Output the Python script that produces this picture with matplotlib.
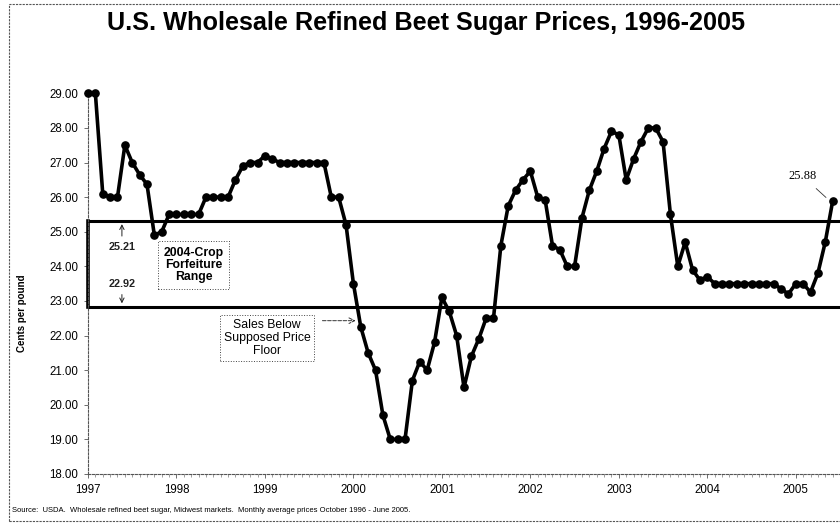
import matplotlib
matplotlib.use("Agg")
import matplotlib.pyplot as plt
from matplotlib.patches import Rectangle
from matplotlib.ticker import MultipleLocator

# ---- data (monthly average prices, cents per pound) ----
prices = [
    29.0, 29.0, 26.1, 26.0, 26.0, 27.5, 27.0, 26.65, 26.37, 24.9,
    25.0, 25.5, 25.5, 25.5, 25.5, 25.5, 26.0, 26.0, 26.0, 26.0,
    26.5, 26.9, 27.0, 27.0, 27.2, 27.1, 27.0, 27.0, 27.0, 27.0,
    27.0, 27.0, 27.0, 26.0, 26.0, 25.2, 23.5, 22.25, 21.5, 21.0,
    19.7, 19.0, 19.0, 19.0, 20.7, 21.25, 21.0, 21.8, 23.1, 22.7,
    22.0, 20.5, 21.4, 21.9, 22.5, 22.5, 24.6, 25.75, 26.2, 26.5,
    26.75, 26.0, 25.93, 24.6, 24.48, 24.0, 24.0, 25.4, 26.2, 26.75,
    27.4, 27.9, 27.8, 26.5, 27.1, 27.6, 28.0, 28.0, 27.6, 25.5,
    24.0, 24.7, 23.9, 23.6, 23.7, 23.5, 23.5, 23.5, 23.5, 23.5,
    23.5, 23.5, 23.5, 23.5, 23.35, 23.2, 23.5, 23.5, 23.25, 23.8,
    24.7, 25.88,
]
year_labels = ["1997", "1998", "1999", "2000", "2001", "2002", "2003", "2004", "2005"]
y_ticks = [18, 19, 20, 21, 22, 23, 24, 25, 26, 27, 28, 29]
range_top = 25.32      # drawn position of forfeiture range top line
range_bottom = 22.83   # drawn position of forfeiture range bottom line
last_label = "25.88"

months = list(range(len(prices)))
year_pos = [12 * i for i in range(len(year_labels))]

plt.rcParams['font.family'] = ['Liberation Sans', 'DejaVu Sans']

fig = plt.figure(figsize=(8.4, 5.25), dpi=100)
ax = fig.add_axes([88 / 840, 1 - 474 / 525, 1 - 88 / 840, (474 - 93.3) / 525])

# outer chart frame
fig.patches.append(Rectangle((9 / 840, 4 / 525), 1.0, 1 - 8 / 525, transform=fig.transFigure,
                             fill=False, edgecolor='#555555', lw=0.8, ls=(0, (2, 1))))

# forfeiture range box
ax.axhline(range_top, color='black', lw=2.2, zorder=2)
ax.axhline(range_bottom, color='black', lw=2.2, zorder=2)
ax.plot([0, 0], [range_bottom, range_top], color='black', lw=2.6, zorder=2, clip_on=False)

# price line
ax.plot(months, prices, color='black', lw=2.6, marker='o', markersize=5.2,
        markerfacecolor='black', zorder=3, clip_on=False)

ax.set_xlim(0, 102.0)
ax.set_ylim(18, 29)

ax.set_yticks(y_ticks)
ax.set_yticklabels([f"{v:.2f}" for v in y_ticks])
ax.set_xticks(year_pos)
ax.set_xticklabels(year_labels)
ax.xaxis.set_minor_locator(MultipleLocator(1))
ax.tick_params(axis='y', labelsize=8.3, length=3, width=0.6, color='#555555', pad=4)
ax.tick_params(axis='x', which='major', labelsize=8.3, length=3, width=0.6, color='#555555', pad=4)
ax.tick_params(axis='x', which='minor', length=2, width=0.5, color='#777777')

for s in ['top', 'right']:
    ax.spines[s].set_visible(False)
for s in ['left', 'bottom']:
    ax.spines[s].set_linestyle((0, (2, 1.5)))
    ax.spines[s].set_color('#555555')
    ax.spines[s].set_linewidth(0.8)

# annotations
ax.annotate("25.21", xy=(4.6, 25.22), xytext=(4.6, 24.57), ha='center', va='center',
            fontsize=7.8, fontweight='bold', color='#222222',
            arrowprops=dict(arrowstyle='->', lw=0.7, color='#222222', shrinkA=2, shrinkB=0))
ax.annotate("22.92", xy=(4.6, 22.93), xytext=(4.6, 23.49), ha='center', va='center',
            fontsize=7.8, fontweight='bold', color='#222222',
            arrowprops=dict(arrowstyle='->', lw=0.7, color='#222222', shrinkA=2, shrinkB=0))

ax.text(14.3, 24.04, "2004-Crop\nForfeiture\nRange", ha='center', va='center',
        fontsize=8.8, fontweight='bold', linespacing=1.02, zorder=4,
        bbox=dict(boxstyle='square,pad=0.45', facecolor='white', edgecolor='#444444',
                  lw=0.7, ls=':'))

ax.text(24.3, 21.93, "Sales Below\nSupposed Price\nFloor", ha='center', va='center',
        fontsize=8.8, linespacing=1.1, zorder=4,
        bbox=dict(boxstyle='square,pad=0.3', facecolor='white', edgecolor='#444444',
                  lw=0.7, ls=':'))
ax.annotate("", xy=(36.3, 22.43), xytext=(31.8, 22.43),
            arrowprops=dict(arrowstyle='->', lw=0.7, ls='--', color='#333333',
                            shrinkA=0, shrinkB=0))

ax.annotate(last_label, xy=(100.1, 25.99), xytext=(96.9, 26.61), ha='center', va='center',
            fontsize=9, family=['Liberation Serif', 'DejaVu Serif'],
            arrowprops=dict(arrowstyle='-', lw=0.6, color='#333333', shrinkA=4, shrinkB=0))

fig.text(0.507, 0.956, "U.S. Wholesale Refined Beet Sugar Prices, 1996-2005", ha='center', va='center',
         fontsize=18.2, fontweight='bold')
fig.text(0.026, 0.404, "Cents per pound", rotation=90, ha='center', va='center',
         fontsize=7, fontweight='bold', family=['Liberation Sans Narrow', 'Liberation Sans'])
fig.text(0.014, 0.027, "Source:  USDA.  Wholesale refined beet sugar, Midwest markets.  "
         "Monthly average prices October 1996 - June 2005.", ha='left', va='center', fontsize=5.5)

fig.savefig("out.png", dpi=100)
